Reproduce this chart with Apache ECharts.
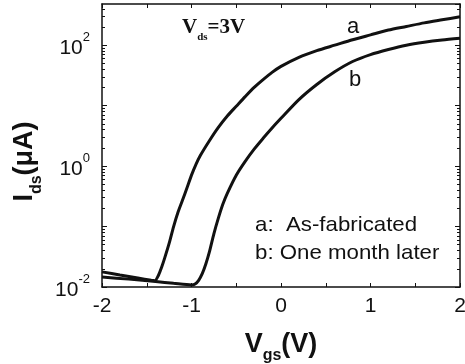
<!DOCTYPE html>
<html>
<head>
<meta charset="utf-8">
<script src="https://cdn.jsdelivr.net/npm/echarts@6/dist/echarts.min.js"></script>
<style>
  html, body { margin: 0; padding: 0; background: #fff; }
  #chart { width: 465px; height: 364px; }
</style>
</head>
<body>
<div id="chart"></div>
<script>
// Transfer characteristics, Vds = 3 V
// curve a: as-fabricated
const vgsA = [-2.0, -1.8, -1.6, -1.45, -1.41, -1.37, -1.33, -1.30, -1.25, -1.20, -1.15, -1.10, -1.05, -1.00, -0.95, -0.90, -0.80, -0.70, -0.60, -0.50, -0.40, -0.30, -0.20, -0.10, 0.00, 0.20, 0.40, 0.60, 0.80, 1.00, 1.20, 1.40, 1.60, 1.80, 2.00];
const idsA = [0.0178, 0.0158, 0.0141, 0.0129, 0.0127, 0.0155, 0.0220, 0.0300, 0.0525, 0.100, 0.174, 0.275, 0.437, 0.708, 1.07, 1.51, 2.63, 4.37, 6.76, 9.77, 14.1, 20.0, 26.9, 35.5, 44.7, 63.1, 81.3, 100, 123, 148, 178, 204, 234, 263, 295];
// curve b: one month later
const vgsB = [-2.0, -1.7, -1.4, -1.2, -1.0, -0.96, -0.92, -0.88, -0.84, -0.80, -0.75, -0.70, -0.65, -0.60, -0.50, -0.40, -0.30, -0.20, -0.10, 0.00, 0.20, 0.40, 0.60, 0.80, 1.00, 1.20, 1.40, 1.60, 1.80, 2.00];
const idsB = [0.0146, 0.0135, 0.0123, 0.0115, 0.0108, 0.0112, 0.0129, 0.0166, 0.0240, 0.0380, 0.0759, 0.138, 0.234, 0.355, 0.708, 1.20, 1.91, 2.88, 4.27, 6.17, 12.6, 22.4, 36.3, 53.7, 70.0, 85.0, 100, 112, 122, 130];

const xTickLabels = ['-2', '-1', '0', '1', '2'];
const yTickExponents = [-2, 0, 2];
const curveNames = ['a', 'b'];
const noteLines = ['a:  As-fabricated', 'b: One month later'];

const INK = '#111';
const SANS = 'Liberation Sans, Arial, sans-serif';
const SERIF = 'Liberation Serif, Times New Roman, serif';
const Y_MIN = 0.01, Y_MAX = 480;

function pairs(xs, ys) { return xs.map((x, i) => [x, ys[i]]); }

// 2..9 x 10^n positions for the small in-between ticks of the log axis
const minorTickValues = [];
for (let e = -2; e <= 2; e++) {
  for (let k = 2; k <= 9; k++) {
    const v = +(k * Math.pow(10, e)).toPrecision(3);
    if (v < Y_MAX) minorTickValues.push(v);
  }
}

const chart = echarts.init(document.getElementById('chart'), null, { renderer: 'canvas' });

const xCommon = {
  type: 'value', min: -2, max: 2, interval: 0.5,
  splitLine: { show: false },
  axisLine: { show: true, onZero: false, lineStyle: { color: INK, width: 1.5 } },
  axisTick: { show: true, inside: true, length: 4, lineStyle: { color: INK, width: 1 } }
};
const yCommon = {
  type: 'log', logBase: 10, min: Y_MIN, max: Y_MAX,
  splitLine: { show: false },
  axisLine: { show: true, onZero: false, lineStyle: { color: INK, width: 1.5 } },
  axisTick: { show: true, inside: true, length: 5, lineStyle: { color: INK, width: 1 } }
};
const yMinor = {
  type: 'log', logBase: 10, min: Y_MIN, max: Y_MAX,
  splitLine: { show: false },
  axisLine: { show: false, onZero: false },
  axisLabel: { show: false },
  axisTick: { show: true, inside: true, length: 3, customValues: minorTickValues, lineStyle: { color: INK, width: 1 } }
};

function yLabel(v) {
  const e = Math.round(Math.log10(v));
  if (Math.abs(Math.log10(v) - e) > 1e-6 || yTickExponents.indexOf(e) < 0) return '';
  return '{m|10}{s|' + e + '}';
}
function xLabel(v) {
  const i = xTickLabels.indexOf(String(v));
  return i < 0 ? '' : xTickLabels[i];
}

// main glyphs sit on top of the line box, subscripts drop to its bottom
const nameRich = {
  m: { fontFamily: SANS, fontWeight: 'bold', fontSize: 27, color: INK, lineHeight: 27, verticalAlign: 'top' },
  s: { fontFamily: SANS, fontWeight: 'bold', fontSize: 16, color: INK, lineHeight: 33, verticalAlign: 'bottom' }
};

chart.setOption({
  animation: false,
  backgroundColor: '#fff',
  grid: { left: 102, right: 5, top: 4, bottom: 77, containLabel: false, outerBoundsMode: 'none' },
  xAxis: [
    Object.assign({}, xCommon, {
      position: 'bottom',
      axisLabel: { show: true, margin: 9, color: INK, fontFamily: SANS, fontSize: 21, formatter: xLabel },
      name: '{m|V}{s|gs}{m|(V)}',
      nameLocation: 'middle', nameGap: 44,
      nameTextStyle: { rich: nameRich }
    }),
    Object.assign({}, xCommon, { position: 'top', axisLabel: { show: false } })
  ],
  yAxis: [
    Object.assign({}, yCommon, {
      position: 'left',
      axisLabel: {
        show: true, margin: 12, showMaxLabel: false, formatter: yLabel,
        rich: {
          m: { fontFamily: SANS, fontSize: 21, color: INK, lineHeight: 28, verticalAlign: 'bottom' },
          s: { fontFamily: SANS, fontSize: 13, color: INK, lineHeight: 13, verticalAlign: 'top' }
        }
      },
      name: '{m|I}{s|ds}{m|(μA)}',
      nameLocation: 'middle', nameGap: 57, nameRotate: 90,
      nameTextStyle: { rich: nameRich, padding: [0, 32, 0, 0] }
    }),
    Object.assign({}, yCommon, { position: 'right', axisLabel: { show: false } }),
    Object.assign({}, yMinor, { position: 'left' }),
    Object.assign({}, yMinor, { position: 'right' })
  ],
  series: [
    {
      name: curveNames[0], type: 'line', xAxisIndex: 0, yAxisIndex: 0,
      data: pairs(vgsA, idsA), showSymbol: false, smooth: 0.25,
      lineStyle: { color: INK, width: 3 }, z: 3
    },
    {
      name: curveNames[1], type: 'line', xAxisIndex: 0, yAxisIndex: 0,
      data: pairs(vgsB, idsB), showSymbol: false, smooth: 0.25,
      lineStyle: { color: INK, width: 3 }, z: 3
    }
  ],
  graphic: [
    {
      type: 'text', left: 182, top: 17,
      style: {
        text: '{m|V}{s|ds}{m|=3V}',
        rich: {
          m: { fontFamily: SERIF, fontWeight: 'bold', fontSize: 21, fill: INK, lineHeight: 21, verticalAlign: 'top' },
          s: { fontFamily: SERIF, fontWeight: 'bold', fontSize: 11, fill: INK, lineHeight: 26, verticalAlign: 'bottom' }
        }
      }
    },
    { type: 'text', x: 353, y: 27, style: { text: curveNames[0], font: '22px ' + SANS, fill: INK, align: 'center', verticalAlign: 'middle' } },
    { type: 'text', x: 355, y: 80, style: { text: curveNames[1], font: '22px ' + SANS, fill: INK, align: 'center', verticalAlign: 'middle' } },
    { type: 'text', x: 255, y: 225, scaleX: 1.06, style: { text: noteLines[0], font: '21px ' + SANS, fill: INK, align: 'left', verticalAlign: 'middle' } },
    { type: 'text', x: 255, y: 253, scaleX: 1.06, style: { text: noteLines[1], font: '21px ' + SANS, fill: INK, align: 'left', verticalAlign: 'middle' } }
  ]
});
</script>
</body>
</html>
